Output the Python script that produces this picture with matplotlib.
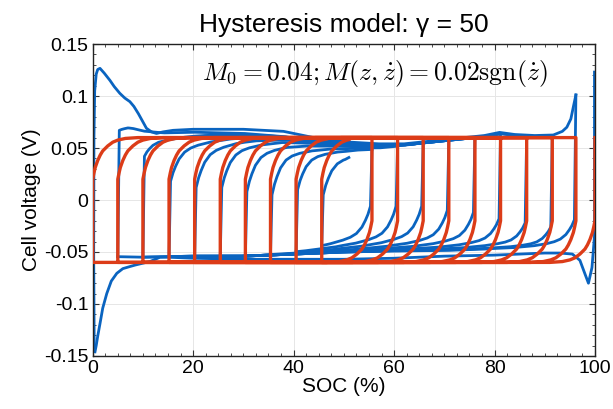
import numpy as np
import matplotlib
matplotlib.use("Agg")
import matplotlib.pyplot as plt
from matplotlib.ticker import MultipleLocator, FixedLocator

# ---------------- data ----------------
# reversal sequence of the test (SOC %): discharge 100->0, charge 0->96.2, ...
turn_soc = [100, 0, 96.2, 5, 91.5, 10, 86.4, 15.2, 81.2, 20.3, 76.1, 25.4,
            70.9, 30.4, 65.8, 35.4, 60.7, 40.5, 55.6, 45.6, 51]

# model parameters (from the annotation)
M0 = 0.04
M = 0.02

# red model: approach of the dynamic part after a reversal (read shape)
red_dz = [0, 0.25, 0.5, 1, 1.5, 2, 3, 4, 5, 6.5, 9]
red_frac = [0, 0.15, 0.28, 0.45, 0.58, 0.68, 0.80, 0.89, 0.94, 0.98, 1.0]

# measured data: outer discharge 100 -> 0
out_dis_soc = [99.9, 99.9, 99.4, 98.7, 98.0, 97.0, 95.5, 93, 90, 85, 80, 70, 60,
               50, 40, 30, 20, 15, 13.4, 11.5, 9.8, 8.5, 7.4, 6.0, 4.8, 3.7,
               2.8, 2.0, 1.45, 1.0, 0.7, 0.46]
out_dis_v = [0.123, -0.035, -0.065, -0.080, -0.071, -0.058, -0.052, -0.051,
             -0.051, -0.052, -0.053, -0.054, -0.056, -0.057, -0.057, -0.057,
             -0.056, -0.055, -0.055, -0.059, -0.061, -0.0625, -0.064, -0.066,
             -0.0705, -0.078, -0.090, -0.104, -0.119, -0.131, -0.140, -0.146]
# measured data: outer charge 0 -> 96.2
out_chg_soc = [0.3, 0.2, 0.25, 0.4, 0.7, 1.0, 1.45, 2.3, 3.44, 4.3, 5.4, 6.4,
               7.4, 8.2, 9.1, 9.9, 10.7, 11.7, 12.7, 14, 16, 20, 30, 38, 44,
               50, 57, 62, 68, 74, 78, 81, 84, 88, 91.7, 93.5, 94.4, 95.2,
               95.7, 96.2]
out_chg_v = [-0.142, -0.05, 0.06, 0.105, 0.121, 0.1255, 0.1266, 0.122, 0.115,
             0.109, 0.1026, 0.098, 0.0946, 0.090, 0.083, 0.076, 0.069, 0.0655,
             0.0640, 0.0655, 0.067, 0.068, 0.068, 0.066, 0.060, 0.056, 0.054,
             0.054, 0.057, 0.060, 0.062, 0.065, 0.063, 0.062, 0.0625, 0.066,
             0.070, 0.078, 0.0897, 0.101]

# measured data: bands approached by the inner loops
up_soc = [0, 7, 10, 14, 20, 30, 38, 44, 50, 57, 62, 68, 74, 78, 81, 84, 88, 92, 100]
up_v = [0.072, 0.072, 0.066, 0.064, 0.065, 0.064, 0.061, 0.057, 0.054, 0.052,
        0.053, 0.056, 0.059, 0.061, 0.064, 0.062, 0.061, 0.062, 0.062]
lo_soc = [0, 10, 20, 30, 40, 50, 60, 70, 80, 90, 100]
lo_v = [-0.054, -0.055, -0.054, -0.054, -0.052, -0.050, -0.049, -0.049,
        -0.049, -0.050, -0.050]

# voltage reached right after the jump at each inner reversal
chg_jump = {5: 0.067, 10: 0.042, 15.2: 0.018, 20.3: 0.012, 25.4: 0.012,
            30.4: 0.008, 35.4: 0.005, 40.5: 0.010, 45.6: 0.005}
dis_jump = {96.2: -0.019, 91.5: -0.026, 86.4: -0.022, 81.2: -0.018,
            76.1: -0.012, 70.9: -0.010, 65.8: -0.006, 60.7: -0.006, 55.6: -0.006}

# shape of the measured relaxation after the jump (read)
blue_dz = [0, 0.5, 1, 1.7, 2.8, 4, 5.5, 8, 12, 18, 25, 35]
blue_frac = [0, 0.18, 0.31, 0.46, 0.60, 0.68, 0.74, 0.81, 0.88, 0.94, 0.98, 1.0]

# ---------------- figure ----------------
BLUE = "#0a64c0"
RED = "#dc3c18"
FONT = "Liberation Sans"

fig = plt.figure(figsize=(6.13, 4.09), dpi=100)
ax = fig.add_axes([0.1512, 0.1296, 0.8194, 0.7628])


def segment(a, b, v_start, v_jump, band_soc, band_v, tdz, tfrac, shift):
    d = 1.0 if b > a else -1.0
    length = abs(b - a)
    pos = [x for x in tdz if x < length]
    pos += [abs(s - a) for s in band_soc if 0 < d * (s - a) < length]
    pos = sorted(set(pos)) + [length]
    pos = np.array(pos)
    soc = a + d * (pos + shift)
    soc[-1] = b
    frac = np.interp(pos, tdz, tfrac)
    target = np.interp(soc, band_soc, band_v)
    v = v_jump + frac * (target - v_jump)
    return np.r_[a, soc], np.r_[v_start, v]


# measured (blue)
kw = dict(color=BLUE, lw=2.0, zorder=2, solid_joinstyle="round")
ax.plot(out_dis_soc, out_dis_v, **kw)
ax.plot(out_chg_soc, out_chg_v, **kw)
v_prev = out_chg_v[-1]
for i in range(2, len(turn_soc) - 1):
    a, b = turn_soc[i], turn_soc[i + 1]
    if b < a:  # discharge
        s, v = segment(a, b, v_prev, dis_jump[a], lo_soc, lo_v,
                       blue_dz, blue_frac, 0.3)
    else:
        s, v = segment(a, b, v_prev, chg_jump[a], up_soc, up_v,
                       blue_dz, blue_frac, 0.3)
    ax.plot(s, v, **kw)
    v_prev = v[-1]

# model (red)
sat = M0 + M
v_prev = sat
rs, rv = [], []
for i in range(len(turn_soc) - 1):
    a, b = turn_soc[i], turn_soc[i + 1]
    d = 1.0 if b > a else -1.0
    vj = v_prev + d * 2 * M0
    s, v = segment(a, b, v_prev, vj, [0, 100], [d * sat, d * sat],
                   red_dz, red_frac, 0.0)
    rs.extend(s)
    rv.extend(v)
    v_prev = v[-1]
ax.plot(rs, rv, color=RED, lw=2.4, zorder=3, solid_joinstyle="round")

# axes styling
ax.set_xlim(0, 100)
ax.set_ylim(-0.15, 0.15)
ax.xaxis.set_major_locator(FixedLocator([0, 20, 40, 60, 80, 100]))
ax.xaxis.set_minor_locator(MultipleLocator(2.5))
ax.yaxis.set_major_locator(FixedLocator([-0.15, -0.1, -0.05, 0, 0.05, 0.1, 0.15]))
ax.yaxis.set_minor_locator(MultipleLocator(0.01))
ax.set_xticklabels(["0", "20", "40", "60", "80", "100"], fontfamily=FONT, fontsize=14)
ax.set_yticklabels(["-0.15", "-0.1", "-0.05", "0", "0.05", "0.1", "0.15"],
                   fontfamily=FONT, fontsize=14)
ax.tick_params(which="both", direction="in", top=True, right=True, color="#333333")
ax.tick_params(which="major", length=4, width=0.8, pad=3)
ax.tick_params(which="minor", length=2.5, width=0.6)
ax.grid(True, which="major", color="#e6e6e6", lw=0.7, zorder=0)
ax.set_axisbelow(True)
for sp in ax.spines.values():
    sp.set_linewidth(1.0)
    sp.set_color("#222222")

ax.set_xlabel("SOC (%)", fontfamily=FONT, fontsize=15, labelpad=0)
ax.set_ylabel("Cell voltage (V)", fontfamily=FONT, fontsize=15, labelpad=2)
ax.set_title("Hysteresis model: \u03b3 = 50", fontfamily=FONT, fontsize=19, pad=9)

ax.text(0.561, 0.905, r"$M_0 = 0.04; M(z,\dot{z}) = 0.02\mathrm{sgn}(\dot{z})$",
        transform=ax.transAxes, ha="center", va="center", fontsize=18.5,
        math_fontfamily="cm", zorder=4)

fig.savefig("out.png", dpi=100)
